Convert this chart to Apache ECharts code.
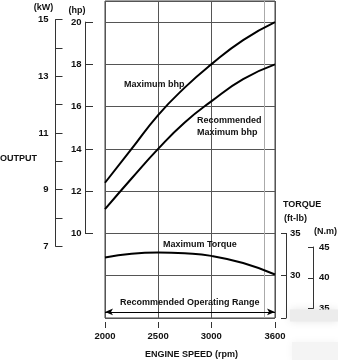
<!DOCTYPE html>
<html>
<head>
<meta charset="utf-8">
<script src="https://cdn.jsdelivr.net/npm/echarts@6/dist/echarts.min.js"></script>
<style>
  html, body { margin: 0; padding: 0; background: #fff; }
  #chart { width: 338px; height: 360px; }
</style>
</head>
<body>
<div id="chart"></div>
<script>
// Engine speed sample points (rpm)
const speedRpm = [2000, 2250, 2500, 2750, 3000, 3300, 3600];
// Output curves (hp)
const maxBhp = [12.4, 14.0, 15.6, 16.9, 18.0, 19.15, 20.0];
const recommendedBhp = [11.15, 12.6, 14.0, 15.25, 16.25, 17.3, 18.0];
// Torque curve (ft-lb)
const maxTorqueFtLb = [32.15, 32.6, 32.75, 32.65, 32.35, 31.5, 30.15];
// Recommended operating range (rpm)
const operatingRange = [2000, 3600];
// Tick values
const speedTicks = [2000, 2500, 3000, 3600];
const hpRange = [10, 20];
const kwRange = [7, 15];
const ftLbRange = [25, 35];
const nmRange = [35, 45];

const FONT = 'Liberation Sans, Arial, Helvetica, sans-serif';
const INK = '#111';
const AXIS = '#333';
const GRIDLINE = '#555';

const pair = (xs, ys) => xs.map((x, i) => [x, ys[i]]);

const tickLabel = { color: INK, fontFamily: FONT, fontWeight: 'bold', fontSize: 9.5 };
const txt = (text, x, y, align) => ({
  type: 'text', x: x, y: y, z: 50,
  style: { text: text, fill: INK, font: 'bold 9px ' + FONT, textAlign: align || 'left', textVerticalAlign: 'middle' }
});
const scaleLine = { show: true, onZero: false, lineStyle: { color: AXIS } };

const chart = echarts.init(document.getElementById('chart'), null, { renderer: 'canvas' });

chart.setOption({
  animation: false,
  backgroundColor: '#fff',
  grid: [
    // main plotting area
    { left: 105, right: 63, top: 1, bottom: 42, show: true, borderColor: '#444', borderWidth: 1, backgroundColor: 'transparent' },
    // hp scale
    { left: 85, width: 20, top: 22.1, height: 211.3 },
    // kW scale
    { left: 55.5, width: 20, top: 19.6, height: 226.7 },
    // ft-lb scale
    { left: 266, right: 52, top: 233.4, bottom: 42 },
    // N.m scale
    { right: 25, width: 20, top: 247, bottom: 51.5 }
  ],
  xAxis: [
    {
      gridIndex: 0, type: 'value', min: speedTicks[0], max: speedTicks[speedTicks.length - 1], interval: 500,
      axisLine: { show: false }, axisTick: { show: false }, axisLabel: { show: false },
      splitLine: { show: true, lineStyle: { color: [GRIDLINE, GRIDLINE, GRIDLINE, '#aaa', GRIDLINE], width: 1 } }
    },
    {
      gridIndex: 0, type: 'value', min: speedTicks[0], max: speedTicks[speedTicks.length - 1],
      position: 'bottom', offset: 4,
      axisLine: { show: false, onZero: false },
      axisTick: { show: true, length: 6, customValues: speedTicks, lineStyle: { color: AXIS } },
      axisLabel: Object.assign({ customValues: speedTicks, margin: 9, formatter: v => String(v) }, tickLabel),
      splitLine: { show: false }
    },
    { gridIndex: 1, type: 'value', show: false },
    { gridIndex: 2, type: 'value', show: false },
    { gridIndex: 3, type: 'value', show: false },
    { gridIndex: 4, type: 'value', show: false }
  ],
  yAxis: [
    // shared horizontal grid (hp units, extended down over the torque band)
    {
      gridIndex: 0, type: 'value', min: 6, max: 21, interval: 2,
      axisLine: { show: false }, axisTick: { show: false }, axisLabel: { show: false },
      splitLine: { show: true, lineStyle: { color: GRIDLINE, width: 1 } }
    },
    // torque scale inside the main area (ft-lb)
    { gridIndex: 0, type: 'value', min: 25, max: 62.5, show: false },
    // hp
    {
      gridIndex: 1, type: 'value', min: hpRange[0], max: hpRange[1], interval: 2, position: 'left',
      axisLine: scaleLine,
      axisTick: { show: true, inside: true, length: 8, lineStyle: { color: AXIS } },
      axisLabel: Object.assign({ margin: 3.5 }, tickLabel),
      splitLine: { show: false }
    },
    // kW
    {
      gridIndex: 2, type: 'value', min: kwRange[0], max: kwRange[1], interval: 1, position: 'left',
      axisLine: scaleLine,
      axisTick: { show: true, inside: true, length: 7, lineStyle: { color: AXIS } },
      axisLabel: Object.assign({ margin: 7, formatter: v => (v % 2 === 1 ? String(v) : '') }, tickLabel),
      splitLine: { show: false }
    },
    // ft-lb
    {
      gridIndex: 3, type: 'value', min: ftLbRange[0], max: ftLbRange[1], interval: 5, position: 'right',
      axisLine: scaleLine,
      axisTick: { show: true, inside: true, length: 5, lineStyle: { color: AXIS } },
      axisLabel: Object.assign({ margin: 4, formatter: v => (v === ftLbRange[0] ? '' : String(v)) }, tickLabel),
      splitLine: { show: false }
    },
    // N.m
    {
      gridIndex: 4, type: 'value', min: nmRange[0], max: nmRange[1], interval: 5, position: 'right',
      axisLine: scaleLine,
      axisTick: { show: true, inside: true, length: 5, lineStyle: { color: AXIS } },
      axisLabel: Object.assign({ margin: 6 }, tickLabel),
      splitLine: { show: false }
    }
  ],
  series: [
    {
      name: 'Maximum bhp', type: 'line', xAxisIndex: 0, yAxisIndex: 0,
      data: pair(speedRpm, maxBhp), smooth: true, showSymbol: false,
      lineStyle: { color: '#000', width: 2 }
    },
    {
      name: 'Recommended Maximum bhp', type: 'line', xAxisIndex: 0, yAxisIndex: 0,
      data: pair(speedRpm, recommendedBhp), smooth: true, showSymbol: false,
      lineStyle: { color: '#000', width: 2 }
    },
    {
      name: 'Maximum Torque', type: 'line', xAxisIndex: 0, yAxisIndex: 1,
      data: pair(speedRpm, maxTorqueFtLb), smooth: true, showSymbol: false,
      lineStyle: { color: '#000', width: 2 },
      markLine: {
        silent: true,
        symbol: ['arrow', 'arrow'],
        symbolSize: [5, 8],
        label: { show: false },
        lineStyle: { color: '#000', type: 'solid', width: 1.2 },
        data: [[{ coord: [operatingRange[0], 25.72] }, { coord: [operatingRange[1], 25.72] }]]
      }
    }
  ],
  graphic: [
    txt('(kW)', 43.5, 7.5, 'center'),
    txt('(hp)', 77, 11, 'center'),
    txt('OUTPUT', 0, 159),
    txt('Maximum bhp', 124, 85),
    txt('Recommended', 197, 120.5),
    txt('Maximum bhp', 197, 133),
    txt('Maximum Torque', 163, 245),
    txt('Recommended Operating Range', 120, 303),
    txt('TORQUE', 283, 205),
    txt('(ft-lb)', 284, 219),
    txt('(N.m)', 314, 232),
    txt('ENGINE SPEED (rpm)', 191.5, 355, 'center'),
    // faded patches in the lower-right corner
    { type: 'rect', z: 60, shape: { x: 290, y: 309.5, width: 48, height: 12 },
      style: { fill: '#ececec', shadowBlur: 8, shadowColor: 'rgba(0,0,0,0.10)' } },
    { type: 'rect', z: 60, shape: { x: 292, y: 342, width: 46, height: 18 },
      style: { fill: '#f4f4f4', shadowBlur: 8, shadowColor: 'rgba(0,0,0,0.05)' } }
  ]
});
</script>
</body>
</html>
